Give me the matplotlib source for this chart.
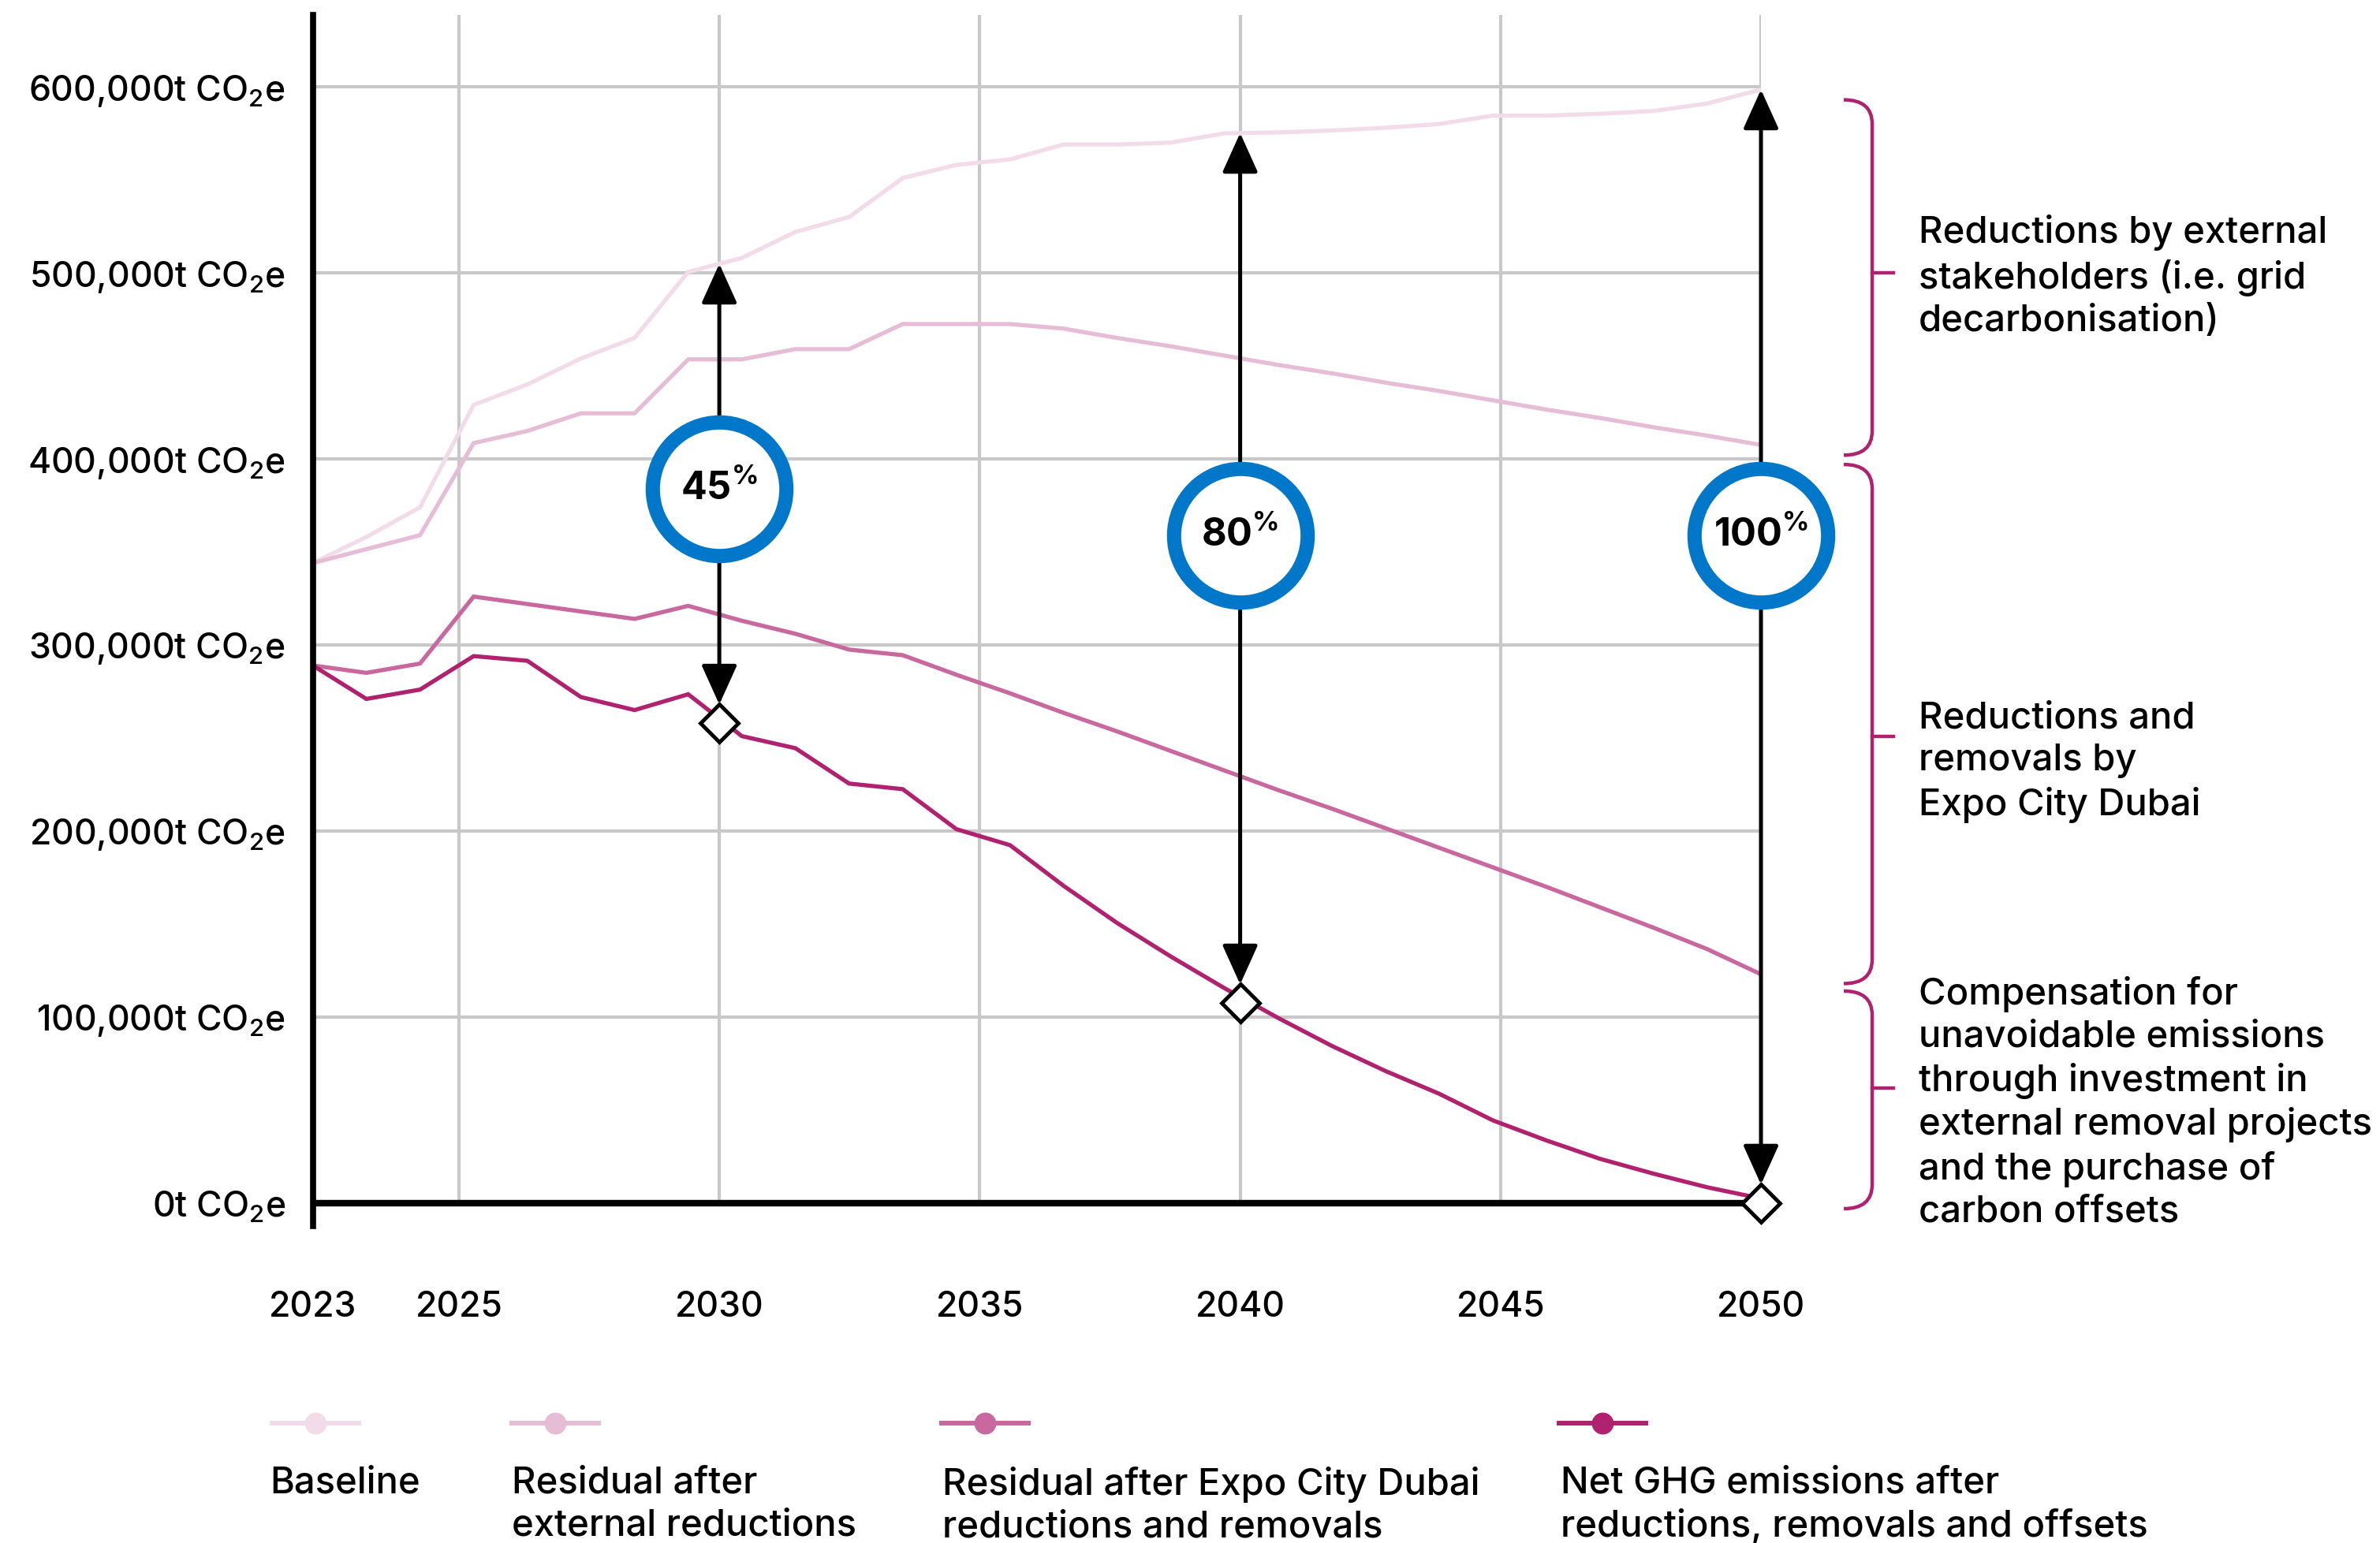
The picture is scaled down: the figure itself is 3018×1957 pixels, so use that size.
import matplotlib
matplotlib.use("Agg")
import matplotlib.pyplot as plt
import numpy as np
from matplotlib.path import Path
from matplotlib.patches import PathPatch, FancyArrowPatch
from matplotlib.transforms import blended_transform_factory
from matplotlib.lines import Line2D

FONT = "Inter"
plt.rcParams["font.family"] = [FONT, "DejaVu Sans"]
plt.rcParams["font.weight"] = "medium"
plt.rcParams["mathtext.fontset"] = "custom"
plt.rcParams["mathtext.rm"] = FONT + ":medium"
plt.rcParams["mathtext.bf"] = FONT + ":bold"

# ---- data (thousand t CO2e), one point per year 2023..2050 ----
years = np.arange(2023, 2051)
baseline = [344, 358, 374, 429, 440, 454, 465, 500.5, 508, 522, 530, 551, 558, 561,
            569, 569, 570, 575, 575.5, 576.5, 578, 580, 584.5, 584.5, 585.5, 587, 591, 598.5]
residual_ext = [344, 351.5, 359, 408.5, 415, 424.5, 424.5, 453.5, 453.5, 459, 459, 472.5, 472.5, 472.5,
                470, 465, 460.5, 455.5, 450.5, 446, 441, 436.5, 431.5, 426.5, 422, 417, 412.5, 407.5]
residual_ecd = [289, 285, 290, 326, 322, 318, 314, 321, 313, 306, 297.5, 294.5, 284, 274,
                263.5, 253.5, 243, 232.5, 222, 212, 201.5, 191, 180.5, 170, 159, 148, 136.5, 123]
net = [289, 271, 276, 294, 291.5, 272, 265, 273.5, 251, 244.5, 225.5, 222.5, 201, 192.4,
       170.5, 150.5, 132.5, 115.5, 99.5, 84.5, 71, 58.8, 44.5, 33.7, 23.8, 15.8, 8.5, 2.5]

series_labels = ["Baseline", "Residual after\nexternal reductions",
                 "Residual after Expo City Dubai\nreductions and removals",
                 "Net GHG emissions after\nreductions, removals and offsets"]
series_colors = ["#f3dce9", "#e6bdd6", "#c9679f", "#b0226f"]

target_years = [2030, 2040, 2050]
target_values = [258, 107.6, 0]
target_pcts = ["45", "80", "100"]
badge_values = [384, 359, 359]

tick_years = [2023, 2025, 2030, 2035, 2040, 2045, 2050]
y_ticks = [0, 100, 200, 300, 400, 500, 600]

brace_texts = ["Reductions by external\nstakeholders (i.e. grid\ndecarbonisation)",
               "Reductions and\nremovals by\nExpo City Dubai",
               "Compensation for\nunavoidable emissions\nthrough investment in\nexternal removal projects\nand the purchase of\ncarbon offsets"]

K = 1000


def grid_pos(y):
    # year gridlines sit on a slightly different scale than the yearly points
    return 2050 - (2050 - np.asarray(y, dtype=float)) * 0.971


fig = plt.figure(figsize=(30.18, 19.57), dpi=100)
ax = fig.add_axes([0.1314, 0.2052, 0.6085, 0.7851])
ax.set_xlim(2023, 2050)
ax.set_ylim(-12.5 * K, 638.6 * K)

grid_c = "#c8c8c8"
ax.hlines([v * K for v in y_ticks[1:]], 2023, 2050, color=grid_c, lw=3, zorder=1)
ax.vlines(grid_pos(tick_years[1:]), 0, 638.6 * K, color=grid_c, lw=3, zorder=1)

for vals, col in zip([baseline, residual_ext, residual_ecd, net], series_colors):
    ax.plot(years, np.array(vals) * K, color=col, lw=3.8, zorder=2, solid_joinstyle="miter")

ax.hlines(0, 2023, 2050, color="black", lw=6, zorder=3)

# arrows, target diamonds, percentage badges
for yr, tv, pct, bv in zip(target_years, target_values, target_pcts, badge_values):
    x = float(grid_pos(yr))
    top = np.interp(x, years, np.array(baseline) * K)
    arr = FancyArrowPatch((x, tv * K), (x, top),
                          arrowstyle="<|-|>,head_length=31,head_width=14",
                          mutation_scale=1, lw=3.6, color="black",
                          shrinkA=17, shrinkB=0, zorder=5, clip_on=False)
    ax.add_patch(arr)
    ax.plot([x], [tv * K], marker="D", ms=24, mfc="white", mec="black", mew=3.5,
            ls="none", zorder=6, clip_on=False)
    ax.plot([x], [bv * K], marker="o", ms=122, mfc="white", mec="#0077c8", mew=13,
            ls="none", zorder=7, clip_on=False)
    ax.text(x, bv * K, r"$\mathbf{%s}^{\mathbf{\%%}}$" % pct, ha="center", va="center",
            fontsize=35, zorder=8)

# axes styling
for s in ["top", "right", "bottom"]:
    ax.spines[s].set_visible(False)
ax.spines["left"].set_linewidth(5.5)
ax.spines["left"].set_zorder(4)
ax.set_yticks([v * K for v in y_ticks])
ax.set_yticklabels([f"{v * K:,}t CO$_2$e" for v in y_ticks], fontsize=32)
xt = [2023] + list(grid_pos(tick_years[1:]))
ax.set_xticks(xt)
ax.set_xticklabels([str(y) for y in tick_years], fontsize=32)
ax.tick_params(axis="y", length=0, pad=25)
ax.tick_params(axis="x", length=0, pad=59)

# braces on the right
bt = blended_transform_factory(ax.transAxes, ax.transData)
brace_c = "#b0226f"
ends = [baseline[-1] * K, residual_ext[-1] * K, residual_ecd[-1] * K]
brace_spans = [(ends[0] - 5.5 * K, ends[1] - 5.5 * K),
               (ends[1] - 10.5 * K, ends[2] - 5 * K),
               (ends[2] - 9 * K, -3 * K)]
brace_tips = [500 * K, 251 * K, 62 * K]
text_y = [498 * K, 237 * K, 54 * K]
x_end, x_mid, x_tip = 1.0572, 1.0768, 1.0915
dy = 13 * K
for (y0, y1), yt, ty, txt in zip(brace_spans, brace_tips, text_y, brace_texts):
    verts = [(x_end, y0), (x_mid, y0), (x_mid, y0 - dy),
             (x_mid, y1 + dy), (x_mid, y1), (x_end, y1)]
    codes = [Path.MOVETO, Path.CURVE3, Path.CURVE3, Path.LINETO, Path.CURVE3, Path.CURVE3]
    ax.add_patch(PathPatch(Path(verts, codes), fill=False, ec=brace_c, lw=3.2,
                           transform=bt, clip_on=False))
    ax.add_line(Line2D([x_mid, x_tip], [yt, yt], color=brace_c, lw=3.2,
                       transform=bt, clip_on=False))
    ax.text(1.1089, ty, txt, transform=bt, ha="left", va="center", fontsize=34,
            linespacing=1.29)

# legend (handle above label)
leg_cx = [400, 704, 1249, 2032]
leg_tx = [342.6, 648.6, 1195, 1978.6]
W, H = 3018.0, 1957.0
for cx, tx, lab, col in zip(leg_cx, leg_tx, series_labels, series_colors):
    fig.add_artist(Line2D([(cx - 55) / W, (cx + 55) / W], [1 - 1805 / H] * 2,
                          color=col, lw=4.3, transform=fig.transFigure))
    fig.add_artist(Line2D([cx / W], [1 - 1805 / H], marker="o", ms=19, color=col,
                          ls="none", transform=fig.transFigure))
    fig.text(tx / W, 1 - 1860 / H, lab, ha="left", va="top", fontsize=34,
             linespacing=1.29)

fig.savefig("out.png", dpi=100, facecolor="white")
